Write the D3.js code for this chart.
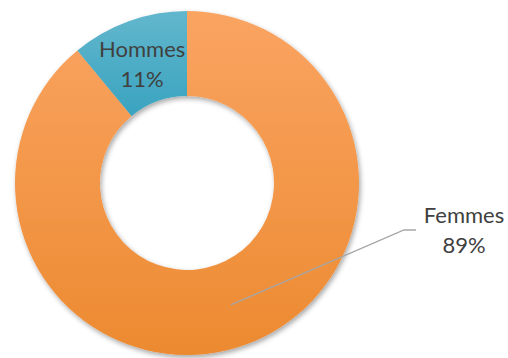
<!DOCTYPE html>
<html>
<head>
<meta charset="utf-8">
<script src="https://cdn.jsdelivr.net/npm/d3@7"></script>
<style>
  html, body { margin: 0; padding: 0; background: #fff; }
  svg { display: block; }
</style>
</head>
<body>
<svg id="chart" width="508" height="358"></svg>
<script>
// Répartition par sexe
const categories = ["Femmes", "Hommes"];
const values = [89, 11];
const labels = ["89%", "11%"];

const W = 508, H = 358;
const cx = 187, cy = 183;
const outerR = 172, innerR = 87;

const svg = d3.select("#chart");
const defs = svg.append("defs");

// Vertical gradients for each slice
const gradStops = {
  Femmes: ["#FAA462", "#EC8A30"],
  Hommes: ["#62B7CD", "#3AA3BF"]
};
categories.forEach(c => {
  const g = defs.append("linearGradient")
    .attr("id", "grad-" + c)
    .attr("x1", 0).attr("y1", 0).attr("x2", 0).attr("y2", 1);
  g.append("stop").attr("offset", "0%").attr("stop-color", gradStops[c][0]);
  g.append("stop").attr("offset", "100%").attr("stop-color", gradStops[c][1]);
});

// Soft shadow under the ring
const f = defs.append("filter").attr("id", "shadow")
  .attr("x", "-10%").attr("y", "-10%").attr("width", "120%").attr("height", "120%");
f.append("feDropShadow")
  .attr("dx", 1.5).attr("dy", 2.5).attr("stdDeviation", 2.5)
  .attr("flood-color", "#000").attr("flood-opacity", 0.35);

const data = categories.map((c, i) => ({ cat: c, value: values[i], label: labels[i] }));

const pie = d3.pie().sort(null).value(d => d.value);
const arcs = pie(data);
const arc = d3.arc().innerRadius(innerR).outerRadius(outerR);

const g = svg.append("g").attr("transform", `translate(${cx},${cy})`);

g.append("g").attr("filter", "url(#shadow)")
  .selectAll("path")
  .data(arcs)
  .join("path")
  .attr("d", arc)
  .attr("fill", d => `url(#grad-${d.data.cat})`);

const font = "Lato, 'Noto Sans', sans-serif";
const textColor = "#404040";

// Hommes: label inside the slice
const hom = arcs.find(a => a.data.cat === "Hommes");
const [hx, hy] = arc.centroid(hom);
const ht = g.append("text")
  .attr("x", hx - 1).attr("y", hy - 4)
  .attr("text-anchor", "middle")
  .attr("font-family", font).attr("font-size", 22)
  .attr("fill", textColor);
ht.append("tspan").attr("x", hx - 1).attr("dy", 0).text(hom.data.cat);
ht.append("tspan").attr("x", hx - 1).attr("dy", 30).text(hom.data.label);

// Femmes: label outside with a leader line
const fem = arcs.find(a => a.data.cat === "Femmes");
const [fx, fy] = arc.centroid(fem);
const elbow = [404 - cx, 230 - cy];
const end = [416 - cx, 230 - cy];
g.append("polyline")
  .attr("points", [[fx, fy], elbow, end].map(p => p.join(",")).join(" "))
  .attr("fill", "none")
  .attr("stroke", "#A6A6A6")
  .attr("stroke-width", 1.3);

const ftx = 464 - cx;
const ft = g.append("text")
  .attr("text-anchor", "middle")
  .attr("font-family", font).attr("font-size", 22)
  .attr("fill", textColor);
ft.append("tspan").attr("x", ftx).attr("y", 223 - cy).text(fem.data.cat);
ft.append("tspan").attr("x", ftx).attr("y", 253 - cy).text(fem.data.label);
</script>
</body>
</html>
